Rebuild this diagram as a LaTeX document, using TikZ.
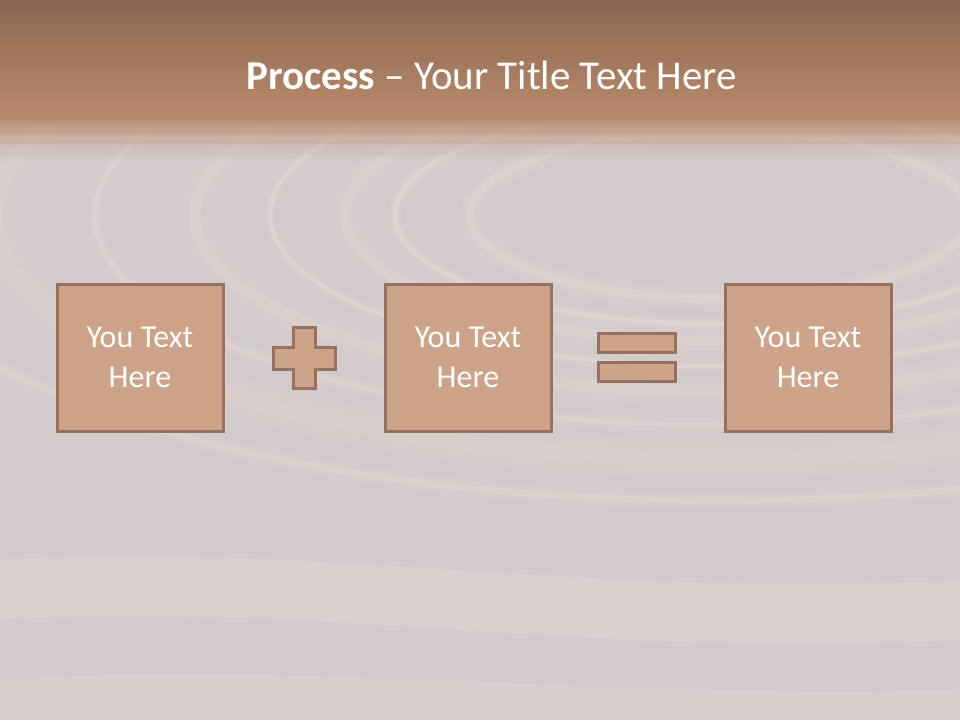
\documentclass[tikz,border=0pt]{standalone}
\usepackage{fontspec}
\setmainfont{Carlito}
\definecolor{boxfill}{HTML}{CDA38A}
\definecolor{boxline}{HTML}{94725F}
\definecolor{bg}{HTML}{D3CBCB}
\definecolor{headtop}{HTML}{8A6650}
\definecolor{headbot}{HTML}{B98B6C}
\definecolor{ripple}{HTML}{F3E6DF}
\begin{document}
\begin{tikzpicture}[x=1pt,y=-1pt,
  stepbox/.style={draw=boxline,fill=boxfill,line width=3pt,minimum width=166pt,minimum height=147pt,
    align=center,text=white,font=\fontsize{32}{40}\selectfont},
  sym/.style={draw=boxline,fill=boxfill,line width=3pt},
  rip/.style={draw=ripple,line cap=round}]
\useasboundingbox (0,0) rectangle (960,720);
% background
\fill[bg] (0,0) rectangle (960,720);
% ripples
\begin{scope}
\clip (0,110) rectangle (960,720);
\foreach \r/\w/\o in {200/8/0.25, 260/5/0.3, 300/10/0.2, 360/4/0.3, 420/12/0.18, 500/5/0.25, 580/16/0.15, 680/6/0.22}{
  \draw[rip,line width=\w pt,opacity=\o] (720,215) ellipse ({\r*1.25} and {\r*0.42});
  \draw[rip,line width=\w*2.5 pt,opacity=\o*0.3] (720,215) ellipse ({\r*1.25} and {\r*0.42});
}
\fill[ripple,opacity=0.2] (0,560) .. controls (300,540) and (600,600) .. (960,580) -- (960,640) .. controls (600,660) and (300,600) .. (0,620) -- cycle;
\fill[ripple,opacity=0.15] (0,680) .. controls (300,660) and (600,700) .. (960,690) -- (960,720) -- (0,720) -- cycle;
\end{scope}
% header
\shade[top color=headtop,bottom color=headbot] (0,0) rectangle (960,118);
\foreach \i in {0,...,19}{
  \pgfmathsetmacro{\mix}{100-\i*3}
  \pgfmathsetmacro{\op}{1-\i/20}
  \fill[headbot!\mix!bg,opacity=\op] (0,{117+\i*2.2}) rectangle (960,{119.5+\i*2.2});
}
\node[text=white,font=\fontsize{41}{48}\selectfont] (title) at (492,75) {\textbf{Process} – Your Title Text Here};
% boxes
\node[stepbox] (b1) at (140,357.5) {You Text\\Here};
\node[stepbox] (b2) at (468,357.5) {You Text\\Here};
\node[stepbox] (b3) at (808,357.5) {You Text\\Here};
% plus
\draw[sym] (293,327) -- (315,327) -- (315,347) -- (335,347) -- (335,369) -- (315,369) -- (315,388)
  -- (293,388) -- (293,369) -- (273,369) -- (273,347) -- (293,347) -- cycle;
% equals
\draw[sym] (598,333) rectangle (675,352);
\draw[sym] (598,362) rectangle (675,381);
\end{tikzpicture}
\end{document}
